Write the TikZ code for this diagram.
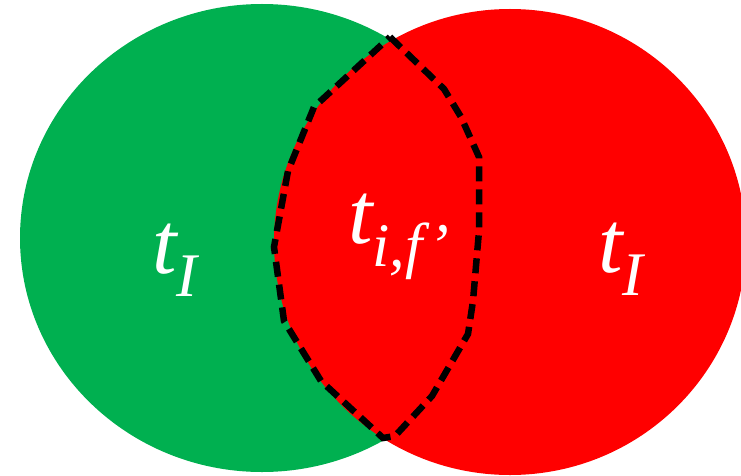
\documentclass[tikz,border=0pt]{standalone}
\usepackage{fontspec}
\setmainfont{Liberation Serif}[ItalicFont={Liberation Serif Italic}]
\definecolor{setgreen}{RGB}{0,176,80}
\definecolor{setred}{RGB}{255,0,0}
\newcommand{\bigsub}[2]{{\itshape #1\raisebox{-0.27em}{\fontsize{62}{62}\selectfont\itshape #2}}}
\begin{document}
\begin{tikzpicture}[x=1pt,y=-1pt,
    setlabel/.style={text=white,font=\fontsize{88}{90}\selectfont\itshape,inner sep=0pt,anchor=base west},
    overlap/.style={line width=6.5pt,dash pattern=on 15pt off 8pt,line join=miter}]
    \useasboundingbox (0,0) rectangle (741,476);

    % the two sets
    \fill[setgreen] (262,238) ellipse [x radius=242,y radius=234];
    \fill[setred] (510,242) ellipse [x radius=236,y radius=233];

    % outline of the common part
    \draw[overlap] (390,37) -- (444,89) -- (461,117) -- (479,157) -- (479,231)
        -- (473,301) -- (468,334) -- (432,396) -- (395,436) -- (383,438)
        -- (321,381) -- (284,321) -- (274,247) -- (288,171) -- (314,107) -- cycle;

    % labels
    \node[setlabel] (left) at (152,273) {\bigsub{t}{I}};
    \node[setlabel] (mid) at (348,243) {\bigsub{t}{i,f’}};
    \node[setlabel] (right) at (598,272) {\bigsub{t}{I}};
\end{tikzpicture}
\end{document}
